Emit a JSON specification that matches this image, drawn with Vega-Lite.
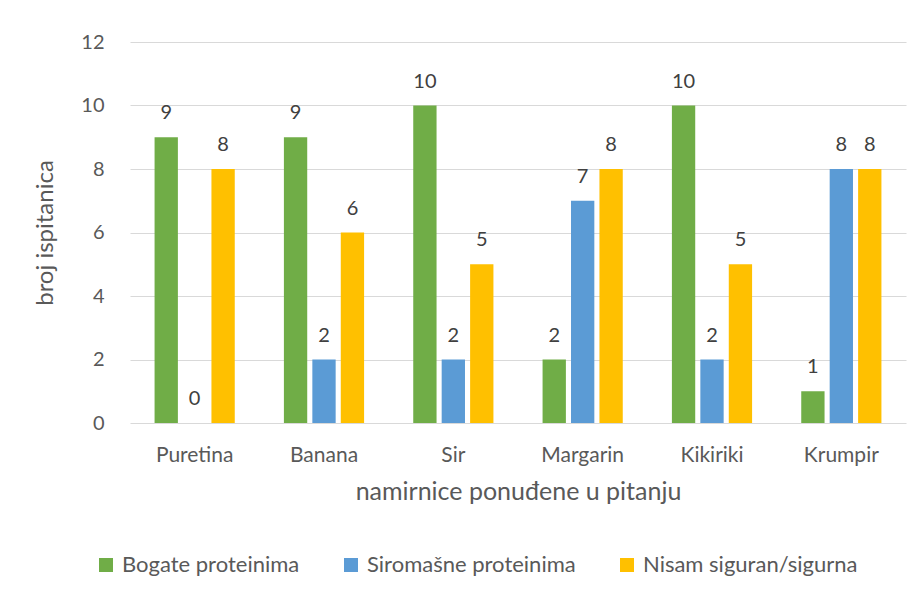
{
  "$schema": "https://vega.github.io/schema/vega-lite/v6.json",
  "width": 776,
  "height": 381,
  "autosize": {"type": "none"},
  "padding": {"left": 130, "top": 42, "right": 16, "bottom": 174},
  "background": "white",
  "config": {
    "view": {"stroke": null},
    "font": "Lato",
    "legend": {"symbolStrokeWidth": 0}
  },
  "data": {
    "values": [
      {"namirnica": "Puretina", "kategorija": "Bogate proteinima", "broj": 9},
      {"namirnica": "Puretina", "kategorija": "Siromašne proteinima", "broj": 0},
      {"namirnica": "Puretina", "kategorija": "Nisam siguran/sigurna", "broj": 8},
      {"namirnica": "Banana", "kategorija": "Bogate proteinima", "broj": 9},
      {"namirnica": "Banana", "kategorija": "Siromašne proteinima", "broj": 2},
      {"namirnica": "Banana", "kategorija": "Nisam siguran/sigurna", "broj": 6},
      {"namirnica": "Sir", "kategorija": "Bogate proteinima", "broj": 10},
      {"namirnica": "Sir", "kategorija": "Siromašne proteinima", "broj": 2},
      {"namirnica": "Sir", "kategorija": "Nisam siguran/sigurna", "broj": 5},
      {"namirnica": "Margarin", "kategorija": "Bogate proteinima", "broj": 2},
      {"namirnica": "Margarin", "kategorija": "Siromašne proteinima", "broj": 7},
      {"namirnica": "Margarin", "kategorija": "Nisam siguran/sigurna", "broj": 8},
      {"namirnica": "Kikiriki", "kategorija": "Bogate proteinima", "broj": 10},
      {"namirnica": "Kikiriki", "kategorija": "Siromašne proteinima", "broj": 2},
      {"namirnica": "Kikiriki", "kategorija": "Nisam siguran/sigurna", "broj": 5},
      {"namirnica": "Krumpir", "kategorija": "Bogate proteinima", "broj": 1},
      {"namirnica": "Krumpir", "kategorija": "Siromašne proteinima", "broj": 8},
      {"namirnica": "Krumpir", "kategorija": "Nisam siguran/sigurna", "broj": 8}
    ]
  },
  "encoding": {
    "x": {
      "field": "namirnica",
      "type": "nominal",
      "sort": ["Puretina", "Banana", "Sir", "Margarin", "Kikiriki", "Krumpir"],
      "scale": {"paddingInner": 0.38, "paddingOuter": 0.19},
      "axis": {
        "title": "namirnice ponuđene u pitanju",
        "labelAngle": 0,
        "labelFontSize": 21,
        "labelColor": "#595959",
        "labelPadding": 21,
        "ticks": false,
        "tickSize": 0,
        "domain": false,
        "grid": false,
        "titleFontSize": 25,
        "titleColor": "#595959",
        "titleFontWeight": "normal",
        "titleY": 76,
        "titleBaseline": "alphabetic"
      }
    },
    "xOffset": {
      "field": "kategorija",
      "type": "nominal",
      "sort": ["Bogate proteinima", "Siromašne proteinima", "Nisam siguran/sigurna"],
      "scale": {"paddingInner": 0.18, "paddingOuter": 0}
    },
    "y": {
      "field": "broj",
      "type": "quantitative",
      "scale": {"domain": [0, 12]},
      "axis": {
        "values": [0, 2, 4, 6, 8, 10, 12],
        "title": "broj ispitanica",
        "labelFontSize": 20,
        "labelColor": "#595959",
        "labelPadding": 26,
        "ticks": false,
        "tickSize": 0,
        "domain": false,
        "grid": true,
        "gridColor": "#D9D9D9",
        "gridWidth": 1,
        "titleFontSize": 24,
        "titleColor": "#595959",
        "titleFontWeight": "normal",
        "titleAngle": -90,
        "titleX": -78,
        "titleY": 190.5,
        "titleAlign": "center",
        "titleBaseline": "alphabetic"
      }
    }
  },
  "layer": [
    {
      "mark": {"type": "bar"},
      "encoding": {
        "color": {
          "field": "kategorija",
          "type": "nominal",
          "scale": {
            "domain": ["Bogate proteinima", "Siromašne proteinima", "Nisam siguran/sigurna"],
            "range": ["#70AD47", "#5B9BD5", "#FFC000"]
          },
          "legend": {
            "orient": "none",
            "legendX": -35,
            "legendY": 512,
            "direction": "horizontal",
            "title": null,
            "symbolType": "square",
            "symbolSize": 196,
            "symbolStrokeWidth": 0,
            "labelFontSize": 22,
            "labelLimit": 0,
            "labelColor": "#595959",
            "labelOffset": 5,
            "columnPadding": 40
          }
        }
      }
    },
    {
      "mark": {"type": "text", "dy": -18, "baseline": "alphabetic", "fontSize": 20, "color": "#404040"},
      "encoding": {"text": {"field": "broj", "type": "quantitative"}}
    }
  ]
}
